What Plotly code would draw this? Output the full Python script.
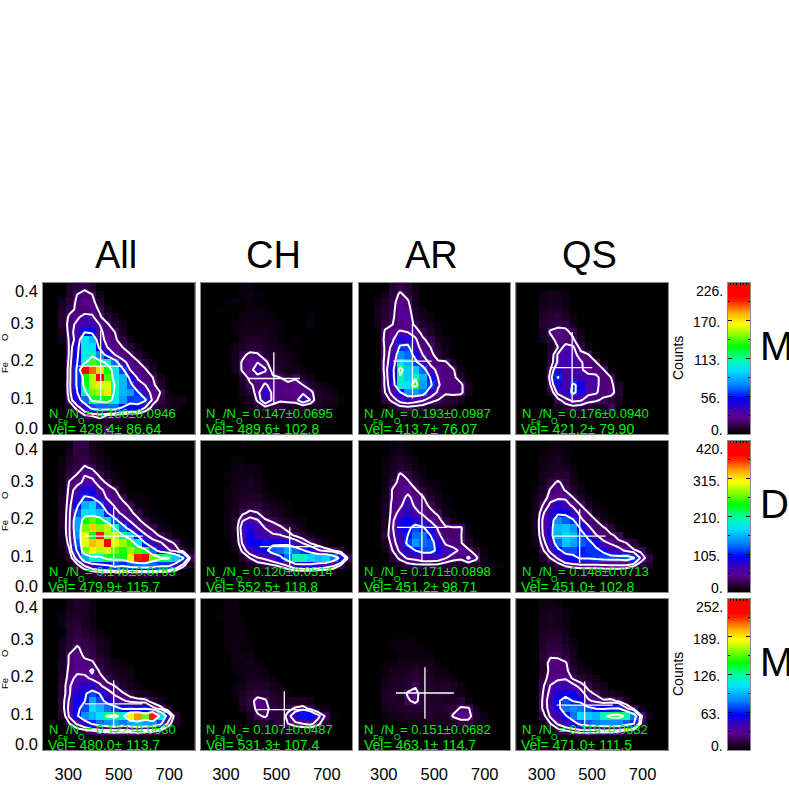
import numpy as np
import plotly.graph_objects as go

# ---------- data: counts per (row j from bottom -> {column i: count}) ----------
ALL_M = {19:{3:8,4:12,5:15,6:8},18:{3:8,4:18,5:22,6:18,7:5},17:{2:5,3:12,4:20,5:25,6:22,7:10},16:{2:8,3:15,4:20,5:20,6:24,7:16,8:5},
15:{2:10,3:20,4:25,5:34,6:30,7:20,8:10,9:5},14:{2:10,3:22,4:32,5:38,6:38,7:28,8:20,9:10,10:4},13:{2:6,3:22,4:35,5:55,6:50,7:32,8:22,9:18,10:6},
12:{2:5,3:20,4:34,5:95,6:85,7:34,8:24,9:20,10:12,11:4},11:{3:20,4:45,5:100,6:95,7:50,8:28,9:24,10:18,11:12,12:4},
10:{3:20,4:50,5:100,6:105,7:75,8:45,9:28,10:22,11:19,12:10,13:4},9:{3:22,4:55,5:105,6:140,7:125,8:105,9:70,10:32,11:24,12:20,13:10,14:4},
8:{3:24,4:60,5:210,6:190,7:175,8:130,9:100,10:62,11:28,12:24,13:20,14:8},7:{3:24,4:60,5:130,6:155,7:215,8:140,9:100,10:85,11:50,12:26,13:22,14:18,15:5},
6:{3:25,4:60,5:125,6:155,7:160,8:160,9:110,10:85,11:65,12:35,13:28,14:22,15:8},5:{3:24,4:55,5:105,6:145,7:150,8:170,9:105,10:85,11:80,12:60,13:35,14:24,15:18,16:3},
4:{3:20,4:45,5:70,6:120,7:125,8:130,9:100,10:80,11:62,12:65,13:60,14:24,15:14,16:6,17:4,18:4},3:{3:10,4:22,5:40,6:65,7:70,8:70,9:70,10:55,11:50,12:50,13:28,14:14,15:8,16:6,17:5},
2:{3:5,4:10,5:18,6:20,7:25,8:18,9:15,10:12,11:10,12:10,13:8,14:5,15:4,16:3},1:{4:3,5:5,6:5,7:8,8:5,9:4,10:3},0:{6:3,8:20}}
CH_M = {19:{5:2,6:3},18:{5:3,6:4,7:3},17:{3:2,4:3,6:3},16:{2:2,6:3,7:3,8:2},15:{5:4,6:4,7:3,8:3,9:2,14:3},14:{4:3,5:4,6:5,7:4,8:4,9:3,10:3,14:3},
13:{4:3,5:5,6:5,7:6,8:6,9:4,10:2},12:{5:6,6:8,7:8,8:6,9:5,10:3,12:3},11:{4:5,5:8,6:10,7:10,8:8,9:6,10:5,11:2},10:{4:6,5:14,6:22,7:20,8:10,9:8,10:6,11:4,12:3},
9:{4:6,5:20,6:26,7:28,8:22,9:9,10:7,11:5,12:3},8:{4:5,5:20,6:24,7:35,8:30,9:14,10:8,11:5,12:5,13:3},7:{5:10,6:22,7:24,8:22,9:20,10:18,11:12,12:16,13:8,14:4},
6:{5:6,6:16,7:22,8:30,9:24,10:22,11:22,12:24,13:18,14:10,15:5,16:3},5:{5:5,6:10,7:24,8:42,9:25,10:22,11:24,12:24,13:26,14:22,15:9,16:6,17:4},
4:{5:3,6:6,7:20,8:40,9:26,10:20,11:22,12:24,13:38,14:28,15:8,16:6,17:5,18:3},3:{6:4,7:10,8:15,9:12,10:10,11:8,12:8,13:10,14:6,15:5,16:4,17:3},2:{7:3,8:4,9:4,10:4,11:4,12:4,13:3}}
AR_M = {19:{4:10,5:14,6:10,7:4},18:{3:5,4:12,5:20,6:14,7:6},17:{2:4,3:8,4:14,5:24,6:20,7:6},16:{2:6,3:10,4:14,5:28,6:24,7:8,8:4},15:{2:6,3:10,4:16,5:26,6:28,7:10,8:5,9:3},
14:{2:5,3:14,4:18,5:22,6:24,7:16,8:8,9:5,10:3},13:{3:20,4:24,5:30,6:28,7:24,8:14,9:8,10:4},12:{3:22,4:26,5:45,6:45,7:30,8:20,9:14,10:5,11:3},
11:{3:20,4:32,5:60,6:62,7:35,8:22,9:18,10:8,11:4},10:{3:20,4:36,5:75,6:70,7:50,8:28,9:22,10:12,11:6},9:{3:22,4:38,5:95,6:85,7:62,8:40,9:24,10:20,11:20,12:6},
8:{3:22,4:45,5:125,6:90,7:90,8:70,9:35,10:24,11:22,12:20,13:4},7:{3:20,4:45,5:110,6:90,7:110,8:85,9:55,10:28,11:22,12:22,13:10},
6:{3:20,4:40,5:100,6:95,7:125,8:80,9:62,10:30,11:22,12:22,13:22,14:5},5:{3:18,4:34,5:55,6:75,7:80,8:70,9:38,10:26,11:20,12:22,13:22,14:6},
4:{3:12,4:22,5:34,6:38,7:34,8:30,9:22,10:18,11:12,12:10,13:6},3:{4:8,5:14,6:16,7:14,8:12,9:10,10:8,11:6,12:5},2:{5:4,6:5,7:6,8:4,9:3}}
QS_M = {18:{3:4,4:6,5:5,6:3},17:{3:5,4:6,5:5,6:4},16:{3:6,4:8,5:8,6:5},15:{3:8,4:10,5:12,6:8,7:4},14:{3:10,4:12,5:14,6:14,7:5},13:{3:6,4:20,5:24,6:22,7:14,8:4},
12:{3:5,4:12,5:24,6:20,7:20,8:6},11:{4:8,5:18,6:34,7:30,8:14,9:4},10:{4:10,5:30,6:36,7:34,8:22,9:19,10:4},9:{4:12,5:30,6:38,7:35,8:30,9:22,10:19,11:4},
8:{4:18,5:42,6:32,7:38,8:30,9:24,10:22,11:19,12:3},7:{4:22,5:58,6:34,7:38,8:36,9:32,10:32,11:22,12:18},6:{4:18,5:45,6:34,7:60,8:50,9:30,10:32,11:22,12:22,13:8},
5:{4:10,5:32,6:42,7:62,8:45,9:32,10:30,11:22,12:24,13:10},4:{5:15,6:24,7:32,8:30,9:22,10:20,11:16,12:10,13:6},3:{5:6,6:12,7:14,8:12,9:10,10:8,11:6,12:18,13:4},2:{6:4,7:4,8:3,9:3}}

ALL_D = {19:{3:8,4:25,5:25,6:12,7:5},18:{3:10,4:22,5:22,6:12,7:6},17:{2:6,3:15,4:22,5:26,6:18,7:10,8:5},16:{2:8,3:18,4:24,5:36,6:30,7:16,8:8},15:{2:8,3:25,4:35,5:52,6:46,7:30,8:14,9:6},
14:{2:8,3:36,4:45,5:58,6:60,7:42,8:30,9:10,10:5},13:{2:8,3:40,4:65,5:85,6:85,7:58,8:45,9:36,10:8},12:{2:12,3:42,4:75,5:110,6:105,7:75,8:48,9:42,10:30,11:6,12:5,13:4},
11:{2:14,3:45,4:95,5:155,6:170,7:120,8:72,9:48,10:40,11:30,12:7,13:5},10:{2:15,3:48,4:120,5:175,6:175,7:160,8:105,9:64,10:44,11:38,12:26,13:8,14:4},
9:{2:15,3:50,4:150,5:240,6:265,7:240,8:180,9:120,10:72,11:48,12:38,13:24,14:8,15:4},8:{2:14,3:52,4:150,5:270,6:325,7:275,8:290,9:200,10:130,11:80,12:52,13:40,14:28,15:9,16:4},
7:{2:12,3:50,4:140,5:300,6:240,7:375,8:280,9:290,10:215,11:165,12:100,13:55,14:44,15:30,16:16,17:5},6:{2:10,3:42,4:125,5:300,6:330,7:320,8:390,9:300,10:280,11:255,12:175,13:105,14:60,15:55,16:42,17:30,18:6},
5:{2:6,3:32,4:110,5:270,6:310,7:290,8:295,9:265,10:250,11:280,12:260,13:230,14:130,15:80,16:56,17:42,18:24,19:10},4:{3:20,4:65,5:150,6:190,7:190,8:230,9:235,10:240,11:300,12:375,13:385,14:270,15:225,16:220,17:165,18:110,19:30},
3:{3:8,4:25,5:55,6:80,7:90,8:100,9:120,10:110,11:125,12:130,13:135,14:130,15:115,16:115,17:80,18:40,19:10},2:{4:8,5:12,6:18,7:25,8:25,9:20,10:20,11:22,12:22,13:22,14:20,15:18,16:16,17:10},1:{6:4,7:5,8:4,9:4,10:3}}
CH_D = {19:{5:3},17:{4:4,5:5},16:{4:5,5:8,6:6,7:4},15:{3:4,4:6,5:8,6:8,7:5},14:{4:8,5:10,6:12,7:8,8:4},13:{3:4,4:8,5:12,6:12,7:10,8:6},12:{3:5,4:10,5:14,6:14,7:14,8:8,9:5,10:3},
11:{3:5,4:10,5:18,6:22,7:22,8:14,9:10,10:6,11:4},10:{3:6,4:12,5:28,6:38,7:34,8:22,9:14,10:10,11:6},9:{3:6,4:14,5:50,6:62,7:54,8:36,9:30,10:20,11:12,12:8,13:4},
8:{3:6,4:15,5:65,6:85,7:68,8:52,9:44,10:38,11:26,12:16,13:8},7:{3:5,4:14,5:60,6:95,7:72,8:62,9:55,10:54,11:42,12:30,13:20,14:10,15:5},6:{4:12,5:55,6:95,7:100,8:105,9:95,10:95,11:85,12:70,13:50,14:32,15:20,16:8},
5:{4:8,5:38,6:70,7:85,8:95,9:125,10:130,11:155,12:130,13:110,14:80,15:56,16:44,17:34,18:20,19:6},4:{5:15,6:34,7:50,8:58,9:72,10:95,11:130,12:200,13:200,14:170,15:160,16:170,17:135,18:95,19:30},
3:{5:6,6:12,7:20,8:24,9:30,10:38,11:55,12:80,13:85,14:90,15:80,16:70,17:58,18:30,19:6},2:{7:4,8:5,9:6,10:8,11:8,12:10,13:10,14:8,15:6,16:4}}
AR_D = {19:{4:4,5:8,6:4},18:{4:8,5:10,6:5},17:{3:4,4:10,5:14,6:10,7:5},16:{3:6,4:12,5:20,6:14,7:8,8:4},15:{3:6,4:14,5:38,6:26,7:12,8:6},14:{3:6,4:24,5:42,6:38,7:22,8:10,9:5,10:4},
13:{3:8,4:36,5:42,6:46,7:36,8:20,9:10,10:6},12:{3:10,4:36,5:42,6:58,7:44,8:36,9:16,10:8,11:4},11:{3:12,4:40,5:48,6:66,7:48,8:40,9:30,10:10,11:6},10:{3:12,4:42,5:60,6:78,7:60,8:46,9:38,10:30,11:8,12:4},
9:{3:14,4:46,5:88,6:95,7:85,8:70,9:48,10:40,11:24,12:8},8:{3:16,4:50,5:85,6:95,7:120,8:110,9:85,10:48,11:36,12:36,13:38,14:6},7:{3:22,4:48,5:72,6:105,7:130,8:130,9:105,10:60,11:36,12:36,13:36,14:6},
6:{3:14,4:42,5:68,6:115,7:145,8:130,9:125,10:82,11:48,12:42,13:36,14:16,15:4},5:{3:8,4:34,5:58,6:80,7:105,8:120,9:120,10:95,11:68,12:60,13:48,14:38,15:20,16:6},
4:{4:20,5:40,6:56,7:60,8:70,9:70,10:68,11:54,12:42,13:38,14:56,15:40,16:10},3:{4:6,5:14,6:24,7:28,8:28,9:28,10:26,11:20,12:16,13:16,14:18,15:14,16:8,17:8,18:6},2:{6:5,7:8,8:8,9:8,10:8,11:6,12:5,13:4,14:4}}
QS_D = {19:{4:5,5:6,6:3},18:{3:5,4:8,5:8,6:5},17:{3:6,4:10,5:12,6:8},16:{3:8,4:12,5:14,6:12,7:5},15:{3:10,4:14,5:18,6:18,7:8},14:{3:10,4:24,5:38,6:24,7:10,8:5},13:{2:6,3:14,4:36,5:42,6:32,7:16,8:8},
12:{2:8,3:20,4:44,5:46,6:48,7:34,8:14,9:6},11:{2:10,3:34,4:58,5:80,6:65,7:46,8:34,9:12,10:6},10:{2:12,3:48,4:75,5:95,6:95,7:72,8:42,9:34,10:10,11:6},9:{2:14,3:55,4:80,5:140,6:125,7:110,8:60,9:38,10:34,11:10,12:5},
8:{2:14,3:55,4:80,5:160,6:165,7:145,8:100,9:60,10:36,11:36,12:24,13:5},7:{2:12,3:52,4:85,5:155,6:170,7:160,8:120,9:95,10:55,11:36,12:36,13:30,14:5},6:{2:8,3:42,4:75,5:130,6:165,7:150,8:125,9:115,10:95,11:60,12:48,13:36,14:34,15:20},
5:{3:30,4:60,5:95,6:120,7:120,8:105,9:112,10:112,11:100,12:75,13:65,14:46,15:36,16:30,17:5},4:{3:12,4:34,5:56,6:85,7:95,8:108,9:108,10:115,11:118,12:120,13:120,14:130,15:110,16:42,17:25},
3:{4:12,5:22,6:36,7:42,8:46,9:46,10:46,11:48,12:50,13:50,14:48,15:36,16:24,17:12},2:{5:6,6:8,7:10,8:12,9:12,10:12,11:12,12:10,13:10,14:8,15:6},1:{7:3,8:3}}

ALL_B = {19:{3:6,4:10,5:8,6:4},18:{3:6,4:8,5:8,6:5},17:{2:4,3:8,4:10,5:8,6:4},16:{2:4,3:10,4:12,5:8,6:5},15:{3:10,4:14,5:10,6:6,7:4},14:{2:6,3:12,4:16,5:14,6:10,7:8,8:4},13:{2:6,3:14,4:22,5:16,6:14,7:8,8:5},
12:{2:6,3:22,4:26,5:18,6:16,7:10,8:6},11:{2:8,3:22,4:26,5:24,6:22,7:14,8:8,9:5,10:3},10:{2:8,3:24,4:28,5:26,6:34,7:18,8:12,9:8,10:5,11:5},9:{2:10,3:26,4:36,5:36,6:28,7:25,8:16,9:12,10:8,11:4},
8:{2:12,3:30,4:42,5:48,6:48,7:34,8:24,9:20,10:10,11:6,12:4},7:{2:12,3:30,4:50,5:60,6:72,7:62,8:40,9:28,10:22,11:14,12:8,13:6,14:4},6:{2:14,3:34,4:56,5:62,6:90,7:72,8:55,9:42,10:34,11:28,12:26,13:24,14:14,15:6},
5:{2:14,3:36,4:58,5:72,6:105,7:95,8:80,9:72,10:60,11:60,12:52,13:60,14:36,15:26,16:10},4:{2:10,3:34,4:60,5:85,6:95,7:105,8:130,9:135,10:115,11:185,12:205,13:160,14:225,15:110,16:48,17:12},
3:{3:20,4:34,5:48,6:66,7:78,8:85,9:90,10:80,11:90,12:95,13:90,14:85,15:70,16:28,17:8},2:{3:8,4:12,5:14,6:18,7:22,8:22,9:24,10:22,11:22,12:26,13:22,14:22,15:16,16:8},1:{5:3,6:4,7:5,8:5,9:5,10:4,11:4,12:4,13:4}}
CH_B = {19:{3:3,4:3},18:{3:3,4:3},17:{2:2,3:3,4:3,5:2},16:{3:3,4:3,5:2},15:{3:3,4:3,5:3},14:{3:2,4:4,5:3,6:2},13:{3:2,4:4,5:3,6:2},12:{4:4,5:5,6:4},11:{4:4,5:4,6:6,7:3},10:{4:2,5:5,6:5,7:5,8:3},
9:{5:4,6:6,7:6,8:5,9:3},8:{4:3,5:6,6:8,7:10,8:10,9:6,10:4},7:{4:4,5:8,6:12,7:14,8:14,9:8,10:6,11:3},6:{5:10,6:14,7:26,8:22,9:12,10:10,11:8,12:8,13:8,14:5},
5:{5:6,6:12,7:24,8:24,9:16,10:12,11:16,12:22,13:26,14:16,15:6,16:4},4:{6:8,7:18,8:22,9:14,10:12,11:24,12:46,13:62,14:56,15:36,16:18,17:3},3:{6:4,7:8,8:10,9:8,10:12,11:20,12:28,13:32,14:36,15:24,16:10},2:{7:4,8:4,9:4,10:5,11:6,12:6,13:6,14:6,15:5,16:3}}
AR_B = {15:{5:2},14:{4:2,5:2,6:2,7:2},13:{4:3,5:3,6:3,7:3,8:2},12:{5:3,6:3,7:3,8:3,9:3},11:{3:2,4:3,5:5,6:5,7:6,8:5,9:5,10:2},10:{3:3,4:6,5:6,6:8,7:12,8:8,9:7,10:4,11:3},9:{3:5,4:8,5:8,6:10,7:12,8:10,9:8,10:6,11:6,12:4},
8:{3:6,4:8,5:8,6:12,7:18,8:10,9:10,10:8,11:10,12:8,13:4},7:{3:8,4:10,5:10,6:22,7:26,8:12,9:8,10:10,11:10,12:6,13:5},6:{3:8,4:10,5:8,6:18,7:24,8:12,9:10,10:10,11:8,12:8,13:12,14:4},
5:{3:6,4:8,5:10,6:10,7:10,8:12,9:10,10:10,11:12,12:14,13:22,14:22,15:5},4:{3:3,4:6,5:6,6:8,7:8,8:8,9:10,10:8,11:8,12:22,13:26,14:26,15:10,16:4},3:{5:3,6:4,7:4,8:5,9:5,10:4,11:6,12:8,13:14,14:14,15:6,16:3},2:{7:2,8:2,9:3,10:2,11:3,12:3,13:3,14:3}}
QS_B = {19:{3:4,4:4,5:3},18:{3:5,4:6,5:5,6:3},17:{3:6,4:8,5:6,6:4},16:{3:6,4:8,5:6,6:4},15:{3:8,4:10,5:10,6:5},14:{3:8,4:12,5:12,6:6,7:4},13:{3:10,4:14,5:14,6:10,7:5},12:{3:12,4:18,5:18,6:12,7:6},
11:{3:10,4:26,5:24,6:22,7:8,8:4},10:{3:10,4:24,5:24,6:24,7:12,8:6,9:4},9:{3:14,4:26,5:28,6:30,7:18,8:12,9:8,10:5},8:{3:18,4:32,5:42,6:42,7:36,8:26,9:16,10:10,11:6},7:{3:20,4:36,5:52,6:55,7:55,8:38,9:24,10:18,11:10,12:8,13:4},
6:{3:22,4:40,5:60,6:72,7:62,8:58,9:34,10:28,11:22,12:24,13:18,14:8},5:{3:22,4:38,5:55,6:80,7:85,8:80,9:70,10:62,11:58,12:62,13:65,14:35,15:18,16:6},4:{3:14,4:34,5:42,6:60,7:80,8:105,9:100,10:95,11:120,12:135,13:140,14:120,15:80,16:22,17:5},
3:{3:6,4:20,5:34,6:44,7:52,8:70,9:75,10:80,11:85,12:85,13:85,14:75,15:65,16:18},2:{4:8,5:14,6:18,7:22,8:24,9:26,10:24,11:22,12:24,13:22,14:16,15:10,16:4},1:{5:3,6:4,7:4,8:5,9:5,10:4,11:4,12:3}}

PANELS = [[ALL_M, CH_M, AR_M, QS_M], [ALL_D, CH_D, AR_D, QS_D], [ALL_B, CH_B, AR_B, QS_B]]
COLUMN_TITLES = ["All", "CH", "AR", "QS"]
ROW_TITLES = ["M", "D", "M"]
ROW_MAX = [226, 420, 252]
CBAR_TICKS = [[0, 56, 113, 170, 226], [0, 105, 210, 315, 420], [0, 63, 126, 189, 252]]
RATIO_MEAN = [[0.180, 0.147, 0.193, 0.176], [0.148, 0.120, 0.171, 0.148], [0.122, 0.107, 0.151, 0.119]]
RATIO_STD = [[0.0946, 0.0695, 0.0987, 0.0940], [0.0763, 0.0514, 0.0898, 0.0713], [0.0630, 0.0487, 0.0682, 0.0632]]
RATIO_STD_TXT = [["0.0946", "0.0695", "0.0987", "0.0940"], ["0.0763", "0.0514", "0.0898", "0.0713"], ["0.0630", "0.0487", "0.0682", "0.0632"]]
VEL_MEAN = [[428.4, 489.6, 413.7, 421.2], [479.9, 552.5, 451.2, 451.0], [480.0, 531.3, 463.1, 471.0]]
VEL_STD = [[86.64, 102.8, 76.07, 79.90], [115.7, 118.8, 98.71, 102.8], [113.7, 107.4, 114.7, 111.5]]
VEL_STD_TXT = [["86.64", "102.8", "76.07", "79.90"], ["115.7", "118.8", "98.71", "102.8"], ["113.7", "107.4", "114.7", "111.5"]]
CONTOUR_FRACTIONS = [0.08, 0.125, 0.25, 0.5]
X_TICKS = [300, 500, 700]
Y_TICKS = [0.1, 0.2, 0.3]
X_EDGES = list(range(200, 801, 30))
Y_EDGES = [round(0.02 * k, 2) for k in range(21)]

# ---------- style / layout ----------
W = 789
LEFTS = [43, 200.7, 358.5, 516.3]
PANEL_W = 151.5
TOPS = [283, 441, 599]
PANEL_H = 151
CBAR_L, CBAR_W = 728, 22
FONT = "Liberation Sans"
GREEN = "#00f000"
EDGE = "#8c8c8c"
CSCALE = [[0, "#000000"], [0.05, "#2a0038"], [0.11, "#5a0090"], [0.17, "#3c00b4"], [0.235, "#0000ff"], [0.33, "#0088ff"],
          [0.42, "#00e0ff"], [0.5, "#00ffa0"], [0.58, "#00ff00"], [0.68, "#b0ff00"], [0.73, "#ffff00"], [0.8, "#ffb000"],
          [0.87, "#ff3000"], [0.91, "#ff0000"], [1, "#ff0000"]]

fig = go.Figure()
annotations = []

def note(text, px, py, size, color="black", xa="center", angle=0):
    annotations.append(dict(text=text, x=px / W, y=1 - py / W, xref="paper", yref="paper", showarrow=False,
                            xanchor=xa, yanchor="middle", textangle=angle, borderpad=0, borderwidth=0,
                            font=dict(family=FONT, size=size, color=color)))

def expand(rows):
    z = np.zeros((20, 20))
    for j, row in rows.items():
        for i, v in row.items():
            z[j, i] = v
    return z

xc = [(a + b) / 2 for a, b in zip(X_EDGES[:-1], X_EDGES[1:])]
yc = [(a + b) / 2 for a, b in zip(Y_EDGES[:-1], Y_EDGES[1:])]
axes = {}
n = 0
for r in range(3):
    top = TOPS[r]
    bottom = top + PANEL_H
    for c in range(4):
        n += 1
        xa, ya = f"x{n}", f"y{n}"
        left = LEFTS[c]
        z = expand(PANELS[r][c])
        fig.add_trace(go.Heatmap(x=X_EDGES, y=Y_EDGES, z=z, xaxis=xa, yaxis=ya, zmin=0, zmax=ROW_MAX[r],
                                 colorscale=CSCALE, showscale=False, hoverinfo="skip"))
        for f in CONTOUR_FRACTIONS:
            lv = f * ROW_MAX[r]
            fig.add_trace(go.Contour(x=xc, y=yc, z=z, xaxis=xa, yaxis=ya, autocontour=False, showscale=False,
                                     contours=dict(start=lv, end=lv, size=1, coloring="none"),
                                     line=dict(color="white", width=2, smoothing=0), hoverinfo="skip"))
        vm, vs, rm, rs = VEL_MEAN[r][c], VEL_STD[r][c], RATIO_MEAN[r][c], RATIO_STD[r][c]
        fig.add_trace(go.Scatter(x=[vm - vs, vm + vs, None, vm, vm], y=[rm, rm, None, rm - rs, rm + rs], mode="lines",
                                 xaxis=xa, yaxis=ya, line=dict(color="white", width=1.3), hoverinfo="skip"))
        axes[f"xaxis{n}"] = dict(domain=[left / W, (left + PANEL_W) / W], range=[200, 800], anchor=ya, tickmode="array",
                                 tickvals=X_TICKS, ticktext=[str(t) for t in X_TICKS], showticklabels=r == 2, ticks="",
                                 ticklabelstandoff=9, tickfont=dict(family=FONT, size=16.5, color="black"),
                                 showgrid=False, zeroline=False, showline=True, linecolor=EDGE, linewidth=1, mirror=True)
        axes[f"yaxis{n}"] = dict(domain=[1 - bottom / W, 1 - top / W], range=[0, 0.4], anchor=xa, tickmode="array",
                                 tickvals=Y_TICKS, ticktext=[f"{t:.1f}" for t in Y_TICKS], showticklabels=c == 0, ticks="",
                                 ticklabelshift=2, ticklabelstandoff=5, tickfont=dict(family=FONT, size=16.5, color="black"),
                                 showgrid=False, zeroline=False, showline=True, linecolor=EDGE, linewidth=1, mirror=True)
        # statistics text
        note("N", left + 5.5, bottom - 21, 13, GREEN, "left")
        note("Fe", left + 14.5, bottom - 12, 8.5, GREEN, "left")
        note("/N", left + 22.5, bottom - 21, 13, GREEN, "left")
        note("O", left + 35, bottom - 13, 8.5, GREEN, "left")
        note(f"= {rm:.3f}±{RATIO_STD_TXT[r][c]}", left + 41.5, bottom - 21, 13, GREEN, "left")
        note(f"Vel= {vm:.1f}± {VEL_STD_TXT[r][c]}", left + 5, bottom - 5, 14, GREEN, "left")
        if r == 2:
            note("-1", left + 120, 793, 11)
    # y end labels and clipped axis title pieces
    note("0.4", 37.5, top + 8, 16.5, xa="right")
    note("0.0", 37.5, bottom - 6, 16.5, xa="right")
    note("Fe", 4, top + 84, 9.5, angle=-90)
    note("O", 4, top + 54, 9.5, angle=-90)
    # colour bar
    n += 1
    xa, ya = f"x{n}", f"y{n}"
    ticks = CBAR_TICKS[r]
    grad = np.linspace(0, ROW_MAX[r], 256)
    fig.add_trace(go.Heatmap(x=[0, 1], y=grad, z=[[v, v] for v in grad], xaxis=xa, yaxis=ya, zmin=0, zmax=ROW_MAX[r],
                             colorscale=CSCALE, showscale=False, hoverinfo="skip"))
    axes[f"xaxis{n}"] = dict(domain=[CBAR_L / W, (CBAR_L + CBAR_W) / W], range=[0, 1], anchor=ya, tickmode="array",
                             tickvals=[0.1, 0.25, 0.4, 0.55, 0.7, 0.85], showticklabels=False, ticks="inside", ticklen=2, tickcolor="black",
                             showgrid=False, zeroline=False, showline=True, linecolor=EDGE, linewidth=1, mirror="ticks")
    step = ticks[1] - ticks[0]
    axes[f"yaxis{n}"] = dict(domain=[1 - bottom / W, 1 - top / W], range=[0, ROW_MAX[r]], anchor=xa, tickmode="array",
                             tickvals=ticks[1:-1], ticktext=[f"{t}." for t in ticks[1:-1]], ticks="inside", ticklen=4, tickcolor="black", tickwidth=1,
                             minor=dict(tickmode="array", tickvals=[t + step / 2 for t in ticks[:-1]], ticks="inside", ticklen=2, tickcolor="black"),
                             ticklabelshift=2, ticklabelstandoff=4, tickfont=dict(family=FONT, size=14, color="black"),
                             showgrid=False, zeroline=False, showline=True, linecolor=EDGE, linewidth=1, mirror="ticks")
    note(f"{ticks[-1]}.", 723, top + 8, 14, xa="right")
    note("0.", 723, bottom - 4, 14, xa="right")
    if r != 1:
        note("Counts", 678, top + 75, 14, angle=-90)
    note(ROW_TITLES[r], 760, top + 63, 40, xa="left")

for c, t in enumerate(COLUMN_TITLES):
    note(t, LEFTS[c] + PANEL_W / 2 - 3, 255, 38)

fig.update_layout(width=W, height=W, margin=dict(l=0, r=0, t=0, b=0), paper_bgcolor="white", plot_bgcolor="black",
                  showlegend=False, annotations=annotations, **axes)
fig.write_html("out.html", config=dict(displayModeBar=False),
               post_script="document.body.style.margin='0';document.body.style.overflow='hidden';")
